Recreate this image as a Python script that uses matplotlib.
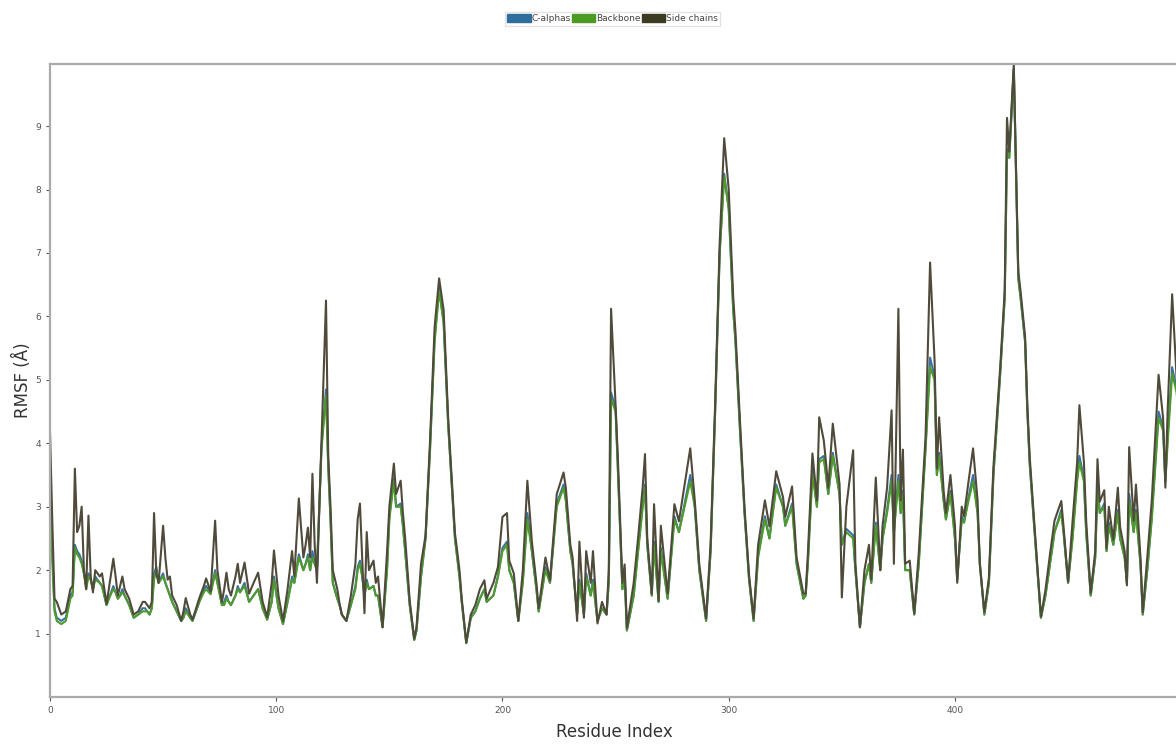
import matplotlib
matplotlib.use("Agg")
import matplotlib.pyplot as plt
from matplotlib.patches import Patch

# residue indices (irregular spacing, at peaks/troughs)
residues = [
    0, 1, 2, 3, 5, 7, 9, 10, 11, 12,
    13, 14, 15, 16, 17, 18, 19, 20, 22, 23,
    25, 26, 28, 29, 30, 31, 32, 33, 35, 37,
    39, 41, 42, 43, 44, 45, 46, 47, 48, 50,
    51, 52, 53, 54, 56, 58, 59, 60, 62, 63,
    65, 66, 68, 69, 71, 73, 74, 76, 77, 78,
    79, 80, 82, 83, 84, 86, 88, 90, 92, 94,
    96, 98, 99, 101, 103, 105, 107, 108, 110, 112,
    113, 114, 115, 116, 117, 118, 120, 122, 123, 124,
    125, 127, 128, 129, 131, 133, 135, 136, 137, 138,
    139, 140, 141, 143, 144, 145, 147, 149, 150, 152,
    153, 155, 156, 157, 159, 161, 162, 164, 166, 168,
    170, 172, 174, 176, 179, 180, 181, 182, 184, 186,
    188, 190, 192, 193, 196, 198, 200, 202, 203, 205,
    207, 209, 211, 213, 215, 216, 219, 221, 224, 227,
    228, 230, 231, 233, 234, 236, 237, 239, 240, 242,
    244, 246, 247, 248, 250, 251, 253, 254, 255, 258,
    260, 262, 263, 264, 266, 267, 269, 270, 273, 276,
    278, 283, 285, 287, 290, 292, 294, 296, 298, 300,
    302, 303, 305, 307, 309, 311, 313, 316, 318, 321,
    324, 325, 328, 330, 333, 334, 335, 337, 339, 340,
    342, 343, 344, 346, 349, 350, 352, 355, 356, 358,
    360, 362, 363, 365, 367, 368, 370, 372, 373, 375,
    376, 377, 378, 380, 382, 384, 387, 389, 391, 392,
    393, 395, 396, 398, 400, 401, 403, 404, 406, 408,
    410, 411, 413, 415, 417, 420, 422, 423, 424, 426,
    428, 429, 431, 432, 433, 435, 438, 440, 442, 444,
    447, 448, 450, 452, 454, 455, 457, 458, 460, 462,
    463, 464, 466, 467, 468, 470, 472, 473, 475, 476,
    477, 479, 480, 482, 483, 485, 487, 490, 492, 493,
    494, 496, 498, 499, 500,
]

side_chains = [
    4.2, 2.8, 1.55, 1.5, 1.3, 1.35, 1.7, 1.75, 3.6, 2.6,
    2.7, 3.0, 2.0, 1.7, 2.86, 1.9, 1.65, 2.0, 1.9, 1.95,
    1.47, 1.7, 2.18, 1.9, 1.6, 1.75, 1.9, 1.7, 1.55, 1.3,
    1.35, 1.5, 1.5, 1.45, 1.4, 1.5, 2.9, 1.95, 1.8, 2.7,
    2.2, 1.85, 1.9, 1.6, 1.45, 1.2, 1.35, 1.56, 1.3, 1.22,
    1.45, 1.56, 1.75, 1.87, 1.66, 2.78, 2.0, 1.5, 1.7, 1.96,
    1.7, 1.6, 1.9, 2.1, 1.8, 2.12, 1.63, 1.8, 1.96, 1.5,
    1.26, 1.8, 2.31, 1.6, 1.2, 1.7, 2.3, 1.9, 3.13, 2.2,
    2.4, 2.67, 2.2, 3.52, 2.4, 1.8, 4.05, 6.25, 3.8, 3.0,
    2.0, 1.7, 1.47, 1.3, 1.2, 1.6, 2.1, 2.8, 3.05, 2.2,
    1.32, 2.6, 2.0, 2.15, 1.8, 1.9, 1.1, 2.3, 3.0, 3.68,
    3.2, 3.41, 2.9, 2.5, 1.52, 0.92, 1.1, 2.1, 2.55, 4.05,
    5.83, 6.6, 6.1, 4.4, 2.58, 2.3, 2.0, 1.55, 0.86, 1.3,
    1.45, 1.7, 1.84, 1.55, 1.8, 2.05, 2.84, 2.9, 2.15, 1.95,
    1.2, 2.0, 3.41, 2.45, 1.8, 1.4, 2.2, 1.84, 3.2, 3.54,
    3.3, 2.4, 2.2, 1.2, 2.45, 1.25, 2.3, 1.8, 2.3, 1.16,
    1.5, 1.3, 2.0, 6.12, 4.6, 3.78, 1.8, 2.09, 1.09, 1.8,
    2.53, 3.32, 3.83, 2.5, 1.63, 3.04, 1.52, 2.7, 1.63, 3.04,
    2.77, 3.92, 3.1, 2.09, 1.24, 2.42, 4.62, 7.15, 8.81, 8.0,
    6.3, 5.75, 4.34, 2.98, 1.92, 1.24, 2.4, 3.1, 2.69, 3.56,
    3.15, 2.84, 3.32, 2.2, 1.63, 1.63, 2.26, 3.84, 3.1, 4.41,
    4.05, 3.7, 3.3, 4.31, 3.35, 1.57, 3.0, 3.89, 2.1, 1.1,
    2.0, 2.4, 1.85, 3.46, 2.0, 2.7, 3.3, 4.52, 2.1, 6.12,
    3.1, 3.9, 2.1, 2.15, 1.32, 2.27, 4.1, 6.85, 5.3, 3.6,
    4.41, 3.25, 2.9, 3.5, 2.7, 1.8, 3.0, 2.85, 3.4, 3.92,
    3.1, 2.1, 1.34, 1.88, 3.63, 5.2, 6.41, 9.13, 8.6, 9.97,
    6.7, 6.4, 5.68, 4.6, 3.81, 2.78, 1.27, 1.69, 2.25, 2.78,
    3.09, 2.68, 1.82, 2.78, 3.7, 4.6, 3.7, 2.78, 1.64, 2.3,
    3.75, 3.08, 3.26, 2.35, 3.0, 2.48, 3.3, 2.68, 2.3, 1.76,
    3.94, 2.78, 3.35, 2.2, 1.34, 2.2, 3.1, 5.08, 4.4, 3.3,
    4.5, 6.35, 5.0, 4.4, 3.8,
]

backbone = [
    3.5, 2.2, 1.35, 1.2, 1.15, 1.2, 1.55, 1.6, 2.35, 2.25,
    2.2, 2.1, 1.95, 1.7, 1.9, 1.85, 1.7, 1.85, 1.8, 1.75,
    1.45, 1.55, 1.7, 1.65, 1.55, 1.6, 1.65, 1.6, 1.45, 1.25,
    1.3, 1.35, 1.35, 1.35, 1.3, 1.4, 1.85, 2.0, 1.8, 1.9,
    1.8, 1.7, 1.6, 1.5, 1.35, 1.2, 1.25, 1.35, 1.25, 1.2,
    1.4, 1.5, 1.65, 1.7, 1.62, 1.95, 1.8, 1.45, 1.45, 1.55,
    1.5, 1.45, 1.6, 1.7, 1.65, 1.75, 1.5, 1.6, 1.7, 1.4,
    1.22, 1.5, 1.85, 1.4, 1.15, 1.5, 1.85, 1.8, 2.2, 2.0,
    2.1, 2.2, 2.0, 2.2, 2.1, 2.0, 3.9, 4.75, 3.6, 2.8,
    1.8, 1.55, 1.45, 1.3, 1.2, 1.45, 1.7, 2.0, 2.1, 1.9,
    1.6, 1.8, 1.7, 1.75, 1.6, 1.6, 1.1, 2.0, 2.8, 3.4,
    3.0, 3.0, 2.7, 2.3, 1.45, 0.9, 1.05, 1.9, 2.5, 3.9,
    5.6, 6.4, 5.9, 4.3, 2.5, 2.2, 1.9, 1.5, 0.85, 1.25,
    1.35, 1.55, 1.7, 1.5, 1.6, 1.9, 2.3, 2.4, 2.0, 1.8,
    1.2, 1.8, 2.8, 2.3, 1.7, 1.35, 2.0, 1.8, 3.0, 3.3,
    3.1, 2.3, 2.1, 1.3, 1.8, 1.3, 1.9, 1.6, 1.8, 1.2,
    1.4, 1.3, 1.8, 4.7, 4.5, 3.6, 1.7, 1.9, 1.05, 1.6,
    2.3, 3.0, 3.3, 2.4, 1.6, 2.4, 1.5, 2.3, 1.55, 2.8,
    2.6, 3.4, 3.0, 2.0, 1.2, 2.3, 4.5, 7.0, 8.2, 7.7,
    6.1, 5.6, 4.2, 2.9, 1.85, 1.2, 2.2, 2.8, 2.5, 3.3,
    3.0, 2.7, 3.0, 2.1, 1.55, 1.6, 2.1, 3.5, 3.0, 3.7,
    3.75, 3.5, 3.2, 3.8, 3.2, 2.4, 2.6, 2.5, 2.0, 1.1,
    1.8, 2.1, 1.8, 2.7, 2.0, 2.5, 2.9, 3.4, 2.6, 3.4,
    2.9, 3.2, 2.0, 2.0, 1.3, 2.1, 3.9, 5.2, 5.0, 3.5,
    3.8, 3.1, 2.8, 3.2, 2.5, 1.85, 2.8, 2.75, 3.1, 3.4,
    2.9, 2.1, 1.3, 1.8, 3.5, 5.1, 6.3, 8.6, 8.5, 9.9,
    6.6, 6.3, 5.6, 4.5, 3.7, 2.7, 1.25, 1.6, 2.1, 2.6,
    2.9, 2.6, 1.8, 2.5, 3.4, 3.7, 3.4, 2.6, 1.6, 2.2,
    3.3, 2.9, 3.0, 2.3, 2.7, 2.4, 2.9, 2.5, 2.2, 1.8,
    3.1, 2.6, 2.9, 2.1, 1.3, 2.0, 2.8, 4.4, 4.2, 3.4,
    4.0, 5.1, 4.8, 4.3, 3.7,
]

c_alphas = [
    3.6, 2.3, 1.4, 1.25, 1.2, 1.25, 1.6, 1.65, 2.4, 2.3,
    2.25, 2.15, 1.95, 1.75, 1.95, 1.85, 1.7, 1.9, 1.8, 1.75,
    1.45, 1.55, 1.75, 1.65, 1.55, 1.6, 1.7, 1.6, 1.45, 1.25,
    1.3, 1.4, 1.4, 1.35, 1.3, 1.4, 1.95, 2.05, 1.8, 1.95,
    1.8, 1.7, 1.6, 1.5, 1.35, 1.2, 1.25, 1.4, 1.25, 1.2,
    1.4, 1.5, 1.7, 1.75, 1.65, 2.0, 1.8, 1.45, 1.5, 1.6,
    1.5, 1.45, 1.6, 1.75, 1.65, 1.8, 1.5, 1.6, 1.7, 1.4,
    1.22, 1.5, 1.9, 1.4, 1.15, 1.5, 1.9, 1.8, 2.25, 2.0,
    2.1, 2.25, 2.0, 2.3, 2.1, 2.0, 3.95, 4.85, 3.65, 2.8,
    1.8, 1.55, 1.45, 1.3, 1.2, 1.45, 1.75, 2.05, 2.15, 1.9,
    1.6, 1.85, 1.7, 1.75, 1.6, 1.6, 1.1, 2.05, 2.85, 3.45,
    3.0, 3.05, 2.7, 2.3, 1.45, 0.9, 1.05, 1.9, 2.5, 3.95,
    5.65, 6.45, 5.9, 4.3, 2.5, 2.2, 1.9, 1.5, 0.85, 1.25,
    1.35, 1.55, 1.7, 1.5, 1.6, 1.9, 2.35, 2.45, 2.0, 1.8,
    1.2, 1.85, 2.9, 2.3, 1.7, 1.35, 2.05, 1.8, 3.05, 3.35,
    3.1, 2.3, 2.1, 1.3, 1.85, 1.3, 1.95, 1.6, 1.85, 1.2,
    1.4, 1.3, 1.85, 4.8, 4.55, 3.6, 1.7, 1.9, 1.05, 1.6,
    2.35, 3.05, 3.35, 2.4, 1.6, 2.45, 1.5, 2.35, 1.55, 2.85,
    2.6, 3.5, 3.0, 2.0, 1.2, 2.3, 4.5, 7.0, 8.25, 7.7,
    6.1, 5.6, 4.2, 2.9, 1.85, 1.2, 2.25, 2.85, 2.5, 3.35,
    3.0, 2.7, 3.05, 2.1, 1.55, 1.6, 2.15, 3.6, 3.0, 3.75,
    3.8, 3.5, 3.2, 3.85, 3.2, 2.4, 2.65, 2.55, 2.0, 1.1,
    1.8, 2.1, 1.8, 2.75, 2.0, 2.5, 2.95, 3.5, 2.6, 3.5,
    2.9, 3.25, 2.0, 2.0, 1.3, 2.1, 3.95, 5.35, 5.05, 3.5,
    3.85, 3.1, 2.8, 3.25, 2.5, 1.85, 2.85, 2.75, 3.15, 3.5,
    2.9, 2.1, 1.3, 1.8, 3.5, 5.1, 6.3, 8.65, 8.5, 9.9,
    6.6, 6.3, 5.6, 4.5, 3.7, 2.7, 1.25, 1.6, 2.1, 2.6,
    2.95, 2.6, 1.8, 2.55, 3.45, 3.8, 3.45, 2.6, 1.6, 2.2,
    3.35, 2.9, 3.05, 2.3, 2.75, 2.4, 2.95, 2.5, 2.2, 1.8,
    3.2, 2.6, 2.95, 2.1, 1.3, 2.0, 2.85, 4.5, 4.25, 3.4,
    4.1, 5.2, 4.85, 4.3, 3.7,
]

series_names = ["C-alphas", "Backbone", "Side chains"]
series_colors = ["#3a72a3", "#4f9a2c", "#4f4a3a"]
legend_colors = ["#2f6d9c", "#4c9a22", "#3d3a24"]

fig = plt.figure(figsize=(11.76, 7.49), dpi=100)
ax = fig.add_axes([0.0425, 0.0694, 0.96, 0.8452])

for vals, col in zip([c_alphas, backbone, side_chains], series_colors):
    ax.plot(residues, vals, color=col, linewidth=1.5)

ax.set_xlim(0, 499)
ax.set_ylim(0, 9.98)
ax.set_yticks(range(1, 10))
ax.set_xticks([0, 100, 200, 300, 400])
ax.tick_params(labelsize=6.5, colors="#555555", length=3, width=0.8)
for s in ["left", "bottom", "top"]:
    ax.spines[s].set_color("#aaaaaa")
    ax.spines[s].set_linewidth(1.6)
ax.spines["right"].set_visible(False)

ax.set_ylabel("RMSF (Å)", fontsize=12, color="#333333", labelpad=2)
ax.set_xlabel("Residue Index", fontsize=12, color="#333333", labelpad=6)

handles = [Patch(facecolor=c, edgecolor=c) for c in legend_colors]
fig.legend(handles, series_names, loc="upper center", ncol=3,
           bbox_to_anchor=(0.521, 0.99), fontsize=6.5, frameon=True,
           handlelength=2.6, handleheight=0.9, handletextpad=0.1,
           columnspacing=0.1, borderpad=0.25, fancybox=False,
           edgecolor="#dddddd", labelcolor="#444444")

fig.savefig("out.png", dpi=100)
